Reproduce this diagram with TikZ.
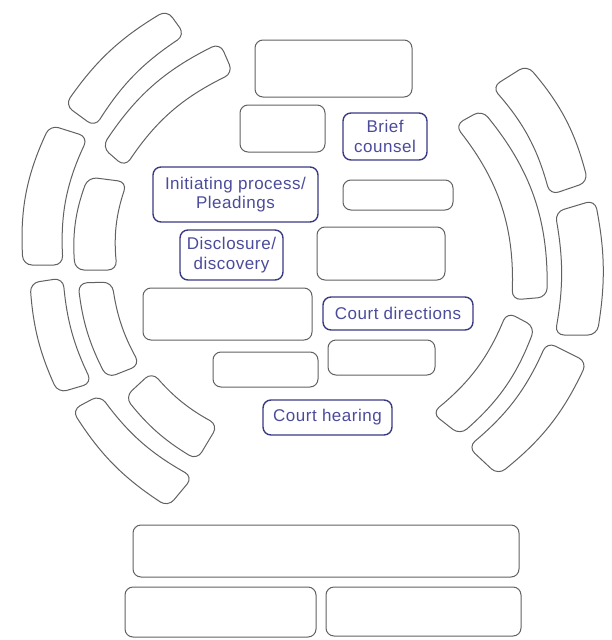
\documentclass[tikz,border=0pt]{standalone}
\usepackage{fontspec}
\setmainfont{Liberation Sans}[LetterSpace=3.0]
\definecolor{navy}{HTML}{3B3B84}
\definecolor{ink}{HTML}{4B4B9C}

\begin{document}
\begin{tikzpicture}[x=1pt,y=-1pt]
        \tikzstyle{seat}=[draw=black!62, line width=1pt, rounded corners=9pt]
        \tikzstyle{table}=[draw=black!62, line width=1pt, rounded corners=8pt, inner sep=0pt]
        \tikzstyle{stage}=[table, draw=navy, line width=1.4pt, text=ink, align=center, font=\fontsize{17}{19.5}\selectfont]
        \useasboundingbox (0,0) rectangle (612,640);
        % tables in the middle
        \node[table, minimum width=157pt, minimum height=57pt] (podium) at (333.5,68.5) {};
        \node[table, minimum width=85pt, minimum height=47pt] (clerk) at (282.5,128.5) {};
        \node[stage, minimum width=84pt, minimum height=47pt] (brief) at (385,136.5) {Brief\\counsel};
        \node[stage, minimum width=165pt, minimum height=55pt] (pleadings) at (235.5,194.5) {Initiating process/\\Pleadings};
        \node[table, minimum width=110pt, minimum height=30pt] (desk) at (398,195) {};
        \node[stage, minimum width=103pt, minimum height=50pt] (disclosure) at (231.5,255) {Disclosure/\\discovery};
        \node[table, minimum width=128pt, minimum height=53pt] (bar) at (381,253.5) {};
        \node[table, minimum width=169pt, minimum height=52pt] (counsel) at (227.5,314) {};
        \node[stage, minimum width=150pt, minimum height=33pt] (directions) at (398,313.5) {Court directions};
        \node[table, minimum width=105pt, minimum height=35pt] (lower) at (265.5,369.5) {};
        \node[table, minimum width=107pt, minimum height=35pt] (side) at (381.5,357.5) {};
        \node[stage, minimum width=129pt, minimum height=35pt] (hearing) at (327.5,417.5) {Court hearing};
        % bench at the foot
        \node[table, minimum width=386pt, minimum height=52pt] (bench) at (326,551) {};
        \node[table, minimum width=191pt, minimum height=50pt] (benchl) at (220.5,612) {};
        \node[table, minimum width=195pt, minimum height=49pt] (benchr) at (423.5,611.5) {};
        % curved seats round the room
        \foreach \oa/\ob/\ia/\ib/\bb in {
            {167,10}/{65,105}/{185,35}/{95,127}/12,
            {220,43}/{102,147}/{233,73}/{125,167}/15,
            {50,125}/{23,265}/{88,137}/{63,265}/14,
            {88,177}/{75,270}/{127,182}/{117,270}/12,
            {30,283}/{58,393}/{63,278}/{92,383}/10,
            {78,283}/{107,378}/{112,282}/{140,365}/10,
            {72,410}/{168,507}/{100,395}/{193,477}/12,
            {125,397}/{197,460}/{152,372}/{218,425}/10,
            {498,475}/{587,362}/{468,447}/{547,342}/13,
            {460,435}/{535,327}/{432,413}/{507,312}/14,
            {597,335}/{595,200}/{555,335}/{555,212}/10,
            {547,297}/{482,110}/{512,300}/{455,125}/20,
            {588,182}/{527,65}/{550,195}/{492,87}/13}
            \draw[seat] (\oa) to[bend right=\bb] (\ob) -- (\ib) to[bend left=\bb] (\ia) -- cycle;
\end{tikzpicture}
\end{document}
